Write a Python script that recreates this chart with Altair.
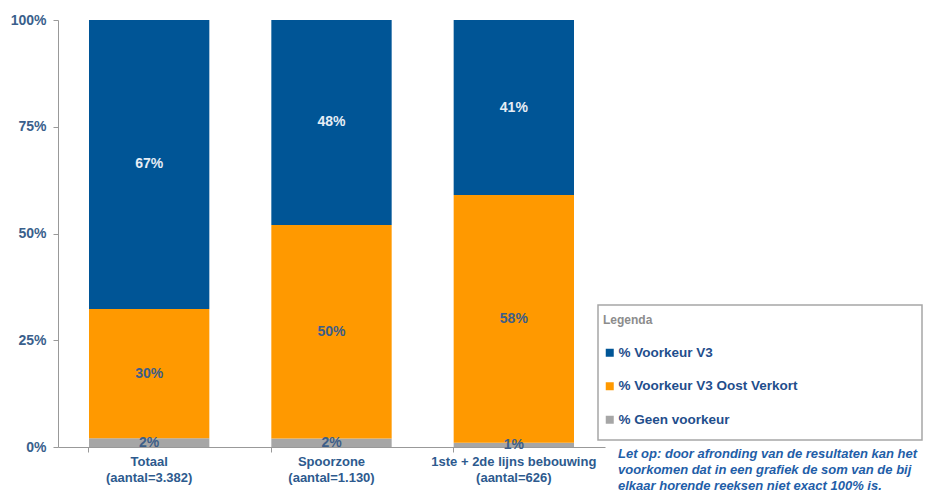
import altair as alt
import pandas as pd

categories = ["Totaal|(aantal=3.382)", "Spoorzone|(aantal=1.130)", "1ste + 2de lijns bebouwing|(aantal=626)"]
series = ["% Voorkeur V3", "% Voorkeur V3 Oost Verkort", "% Geen voorkeur"]
v3 = [67, 48, 41]
oost = [30, 50, 58]
geen = [2, 2, 1]
y_ticks = [0, 0.25, 0.5, 0.75, 1.0]
note = "Let op: door afronding van de resultaten kan het\nvoorkomen dat in een grafiek de som van de bij\nelkaar horende reeksen niet exact 100% is."

rows = []
for i, c in enumerate(categories):
    rows.append({"cat": c, "series": series[2], "value": geen[i], "order": 1})
    rows.append({"cat": c, "series": series[1], "value": oost[i], "order": 2})
    rows.append({"cat": c, "series": series[0], "value": v3[i], "order": 3})
df = pd.DataFrame(rows)

colors = ["#005596", "#FF9900", "#A6A6A6"]
FONT = "Liberation Sans"

base = alt.Chart(df).transform_stack(
    stack="value", groupby=["cat"], as_=["y0", "y1"], offset="normalize",
    sort=[alt.SortField("order", order="ascending")]
).transform_calculate(mid="(datum.y0 + datum.y1) / 2", label="datum.value + '%'")

x = alt.X("cat:N", sort=categories,
          scale=alt.Scale(paddingInner=0.34, paddingOuter=0.17),
          axis=alt.Axis(title=None, labelAngle=0, labelExpr="split(datum.label, '|')",
                        bandPosition=0, labelFont=FONT, labelFontWeight="bold",
                        labelFontSize=13, labelColor="#2d5a8e", labelLineHeight=16,
                        labelPadding=3, domainColor="#999999", tickColor="#999999",
                        tickSize=5, labelBaseline="top"))

yscale = alt.Scale(domain=[0, 1], nice=False)

bars = base.mark_bar().encode(
    x=x,
    y=alt.Y("y0:Q", scale=yscale,
            axis=alt.Axis(title=None, values=y_ticks, format=".0%", grid=False,
                          labelFont=FONT, labelFontWeight="bold", labelFontSize=14,
                          labelColor="#3a5f8c", domainColor="#999999", tickColor="#999999",
                          tickSize=5, labelPadding=7)),
    y2="y1:Q",
    color=alt.Color("series:N", scale=alt.Scale(domain=series, range=colors),
                    legend=alt.Legend(orient="none", legendX=545, legendY=295,
                                      title="Legenda", titleColor="#8c8c8c", titleFont=FONT,
                                      titleFontSize=12, titleFontWeight="bold", titlePadding=19,
                                      symbolType="square", symbolSize=64, symbolStrokeWidth=0,
                                      labelFont=FONT, labelFontSize=13.5, labelFontWeight="bold",
                                      labelColor="#1f4e8c", labelLimit=400,
                                      rowPadding=18.5, padding=0, labelOffset=2)),
)

labels = base.mark_text(font=FONT, fontWeight="bold", fontSize=14).encode(
    x=x,
    y=alt.Y("mid:Q", scale=yscale),
    text="label:N",
    color=alt.condition("datum.series == '% Voorkeur V3'", alt.value("#e6edf5"), alt.value("#3d5e88")),
)

box = alt.Chart(pd.DataFrame({"a": [0]})).mark_rect(fill="white", stroke="#a6a6a6", strokeWidth=1.5).encode(
    x=alt.value(540), x2=alt.value(864), y=alt.value(285), y2=alt.value(420))

note_text = alt.Chart(pd.DataFrame({"a": [0]})).mark_text(
    align="left", baseline="top", lineBreak="\n", lineHeight=16, font=FONT,
    fontStyle="italic", fontWeight="bold", fontSize=13, color="#1f5ea8"
).encode(x=alt.value(560), y=alt.value(428), text=alt.value(note))

chart = alt.layer(box, bars, labels, note_text).properties(
    width=547, height=427,
    autosize=alt.AutoSizeParams(type="none"),
    padding={"left": 50, "top": 12, "right": 318, "bottom": 46},
).configure_view(stroke=None)

chart.save("out.html", embed_options={"renderer": "svg", "actions": False})
